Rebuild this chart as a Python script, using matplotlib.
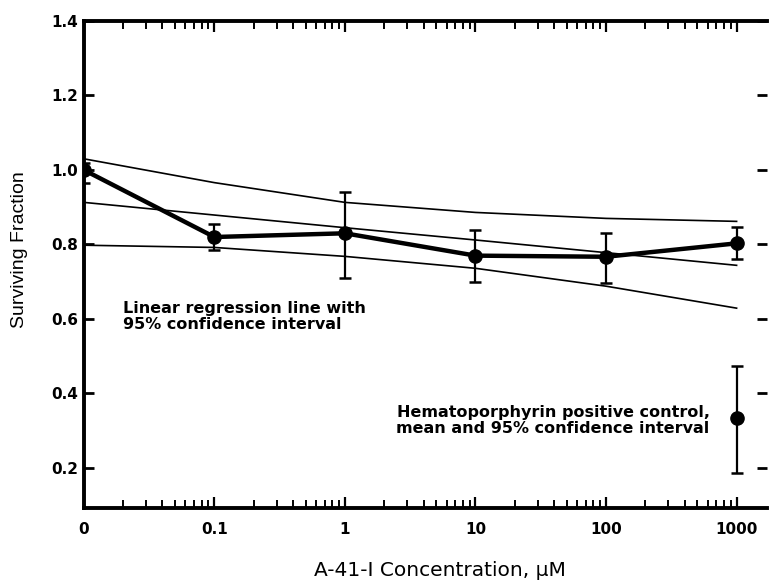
import matplotlib
matplotlib.use("Agg")
import matplotlib.pyplot as plt
import numpy as np

plt.rcParams['font.family'] = ['DejaVu Sans']

# Data
dose_labels = ['0', '0.1', '1', '10', '100', '1000']
dose_pos = [0.01, 0.1, 1, 10, 100, 1000]          # "0" drawn at 0.01 on log axis
surv_mean = [1.00, 0.82, 0.83, 0.77, 0.767, 0.803]
surv_low = [0.965, 0.785, 0.71, 0.70, 0.697, 0.76]
surv_high = [1.02, 0.855, 0.942, 0.84, 0.832, 0.848]

reg_center = [0.913, 0.879, 0.845, 0.812, 0.778, 0.744]
reg_upper = [1.03, 0.966, 0.913, 0.886, 0.870, 0.862]
reg_lower = [0.798, 0.792, 0.768, 0.736, 0.688, 0.629]

hp_pos = [1000]
hp_mean = [0.334]
hp_low = [0.187]
hp_high = [0.474]

fig = plt.figure(figsize=(7.69, 5.83), dpi=100)
ax = fig.add_axes([0.109, 0.129, 0.888, 0.835])
ax.set_xscale('log')

# regression lines
for arr in (reg_center, reg_upper, reg_lower):
    ax.plot(dose_pos, arr, color='black', lw=1.2)

# main series
yerr = [np.array(surv_mean) - np.array(surv_low), np.array(surv_high) - np.array(surv_mean)]
ax.errorbar(dose_pos, surv_mean, yerr=yerr, color='black', lw=3.2, marker='o', ms=9.5,
            elinewidth=1.6, capsize=4, capthick=1.8, zorder=5)

# hematoporphyrin control
hyerr = [np.array(hp_mean) - np.array(hp_low), np.array(hp_high) - np.array(hp_mean)]
ax.errorbar(hp_pos, hp_mean, yerr=hyerr, color='black', lw=0, marker='o', ms=9.5,
            elinewidth=1.6, capsize=4, capthick=1.8, zorder=5)

ax.set_xlim(0.01, 1700)
ax.set_ylim(0.093, 1.4)

ax.set_xticks(dose_pos)
ax.set_xticklabels(dose_labels, fontweight='bold', fontsize=11)
minor = [m * 10.0 ** e for e in range(-2, 3) for m in range(2, 10)]
ax.set_xticks(minor, minor=True)
ax.set_xticklabels([], minor=True)

yt = [0.2, 0.4, 0.6, 0.8, 1.0, 1.2, 1.4]
ax.set_yticks(yt)
ax.set_yticklabels(['%.1f' % v for v in yt], fontweight='bold', fontsize=11)

ax.tick_params(axis='x', which='major', direction='in', top=True, bottom=True,
               length=8, width=1.6, pad=10)
ax.tick_params(axis='x', which='minor', direction='in', top=True, bottom=True,
               length=6, width=1.4)
ax.tick_params(axis='y', which='major', direction='in', left=True, right=True,
               length=7, width=2.0, pad=4)

for s in ('left', 'top', 'bottom'):
    ax.spines[s].set_linewidth(2.8)
ax.spines['right'].set_visible(False)

ax.set_ylabel('Surviving Fraction', fontsize=14, family='Liberation Sans')
ax.yaxis.set_label_coords(-0.082, 0.53)
ax.set_xlabel('A-41-I Concentration, \u00b5M', fontsize=14.5)
ax.xaxis.set_label_coords(0.521, -0.109)

ax.text(0.02, 0.648, 'Linear regression line with\n95% confidence interval',
        fontsize=11.5, fontweight='bold', ha='left', va='top', linespacing=1.1)
ax.text(620, 0.369, 'Hematoporphyrin positive control,\nmean and 95% confidence interval',
        fontsize=11.5, fontweight='bold', ha='right', va='top', linespacing=1.1)

fig.savefig('out.png', dpi=100)
